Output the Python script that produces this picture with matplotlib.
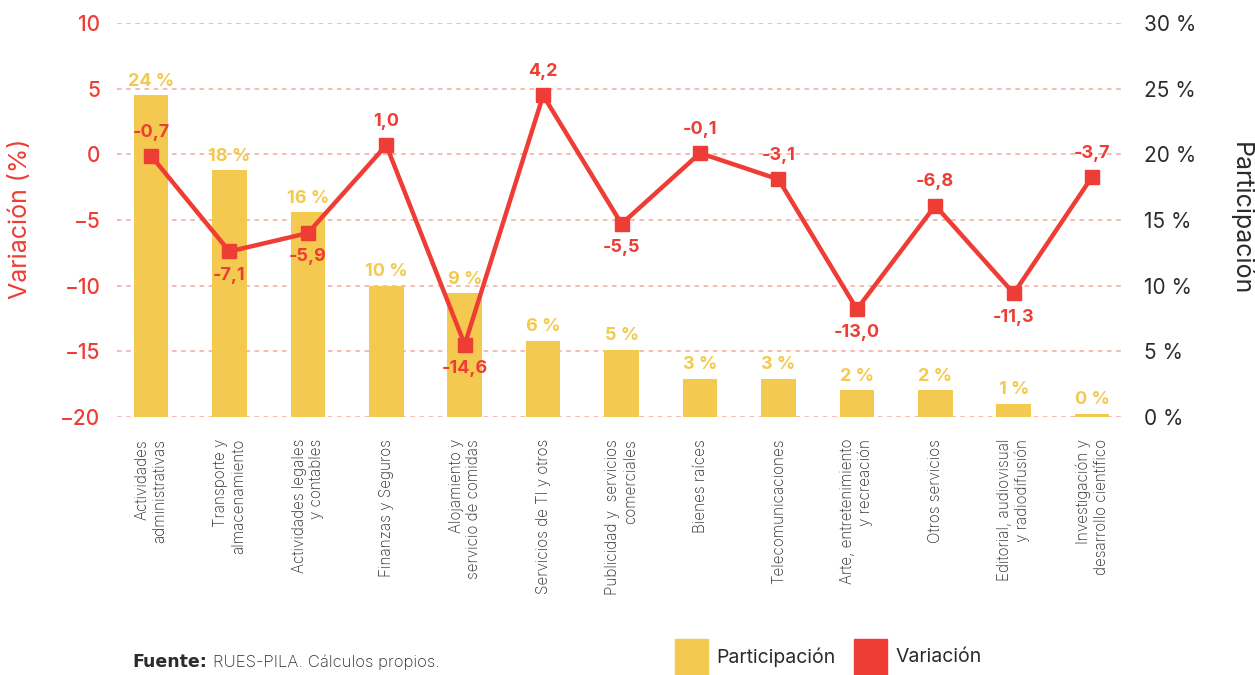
import matplotlib.pyplot as plt
import numpy as np
from matplotlib.patches import Rectangle

# Data
categorias = [
    "Actividades\nadministrativas",
    "Transporte y\nalmacenamiento",
    "Actividades legales\ny contables",
    "Finanzas y Seguros",
    "Alojamiento y\nservicio de comidas",
    "Servicios de TI y otros",
    "Publicidad y  servicios\ncomerciales",
    "Bienes raíces",
    "Telecomunicaciones",
    "Arte, entretenimiento\ny recreación",
    "Otros servicios",
    "Editorial, audiovisual\ny radiodifusión",
    "Investigación y\ndesarrollo científico",
]
# Participación (%) - bar heights as drawn, and printed labels
participacion = [24.5, 18.8, 15.6, 10.0, 9.4, 5.8, 5.1, 2.9, 2.9, 2.0, 2.0, 1.0, 0.2]
participacion_txt = ["24", "18", "16", "10", "9", "6", "5", "3", "3", "2", "2", "1", "0"]
# Variación (%) - marker positions as drawn, and printed labels
variacion = [-0.1, -7.4, -6.0, 0.7, -14.5, 4.5, -5.3, 0.1, -1.9, -11.8, -3.9, -10.6, -1.7]
variacion_txt = ["-0,7", "-7,1", "-5,9", "1,0", "-14,6", "4,2", "-5,5",
                 "-0,1", "-3,1", "-13,0", "-6,8", "-11,3", "-3,7"]
# label above (+1) or below (-1) the marker
posicion_txt = [1, -1, -1, 1, -1, 1, -1, 1, 1, -1, 1, -1, 1]

AMARILLO = "#F4C94F"
ROJO = "#EE3D34"
GRID = "#F4A79C"
GRIS = "#2B2B2B"

plt.rcParams["font.family"] = ["Inter", "DejaVu Sans"]

fig = plt.figure(figsize=(12.55, 6.75), dpi=100)
ax_bar = fig.add_axes([0.0932, 0.3827, 0.8008, 0.5828])
ax_line = ax_bar.twinx()

x = np.arange(len(categorias))

# bars (lower layer, right axis)
ax_bar.bar(x, participacion, width=0.44, color=AMARILLO, zorder=2)
ax_bar.set_ylim(0, 30)
ax_bar.set_yticks(np.arange(0, 31, 5))
ax_bar.set_yticklabels([f"{v} %" for v in range(0, 31, 5)], fontsize=15, color=GRIS)
ax_bar.yaxis.tick_right()
ax_bar.tick_params(axis="y", length=0, pad=16)
ax_bar.grid(axis="y", color=GRID, linestyle=(0, (3, 3)), linewidth=1.1, zorder=0)
ax_bar.set_axisbelow(True)

for xi, h, t in zip(x, participacion, participacion_txt):
    ax_bar.annotate(f"{t} %", (xi, h), xytext=(0, 4), textcoords="offset points",
                    ha="center", va="bottom", fontsize=13, fontweight="bold", color=AMARILLO)

# category labels
ax_bar.set_xticks(x)
ax_bar.set_xticklabels(categorias, rotation=90, fontsize=11, color=GRIS,
                       fontweight="light", ha="center", va="top", multialignment="right")
ax_bar.tick_params(axis="x", length=0, pad=16)
ax_bar.set_xlim(-0.434, 12.38)

# line (upper layer, left axis)
ax_line.plot(x, variacion, color=ROJO, linewidth=3.2, marker="s", markersize=10, zorder=3)
ax_line.set_ylim(-20, 10)
ax_line.set_yticks(np.arange(-20, 11, 5))
ax_line.set_yticklabels([str(v).replace("-", "\u2212") for v in range(-20, 11, 5)],
                        fontsize=15, color=ROJO, fontweight="medium")
ax_line.yaxis.tick_left()
ax_line.tick_params(axis="y", length=0, pad=12)

for xi, v, t, p in zip(x, variacion, variacion_txt, posicion_txt):
    ax_line.annotate(t, (xi, v), xytext=(0, 17 * p), textcoords="offset points",
                     ha="center", va="center", fontsize=13, fontweight="bold", color=ROJO)

for a in (ax_bar, ax_line):
    for s in a.spines.values():
        s.set_visible(False)

# axis titles
fig.text(21 / 1255, 1 - 219 / 675, "Variación (%)", fontsize=18, color=ROJO,
         rotation=90, ha="center", va="center")
fig.text(1241 / 1255, 1 - 219 / 675, "Participación", fontsize=18, color=GRIS,
         rotation=270, ha="center", va="center")

# source note
fig.text(132 / 1255, 1 - 662 / 675, "Fuente:", fontsize=12.5, fontweight="bold",
         color=GRIS, va="center", family="DejaVu Sans")
fig.text(213 / 1255, 1 - 662 / 675, "RUES-PILA. Cálculos propios.", fontsize=12,
         color=GRIS, fontweight="light", va="center")

# legend
for x0, col, lab in [(675, AMARILLO, "Participación"), (854, ROJO, "Variación")]:
    fig.patches.append(Rectangle((x0 / 1255, 0), 33 / 1255, 36 / 675, color=col,
                                 transform=fig.transFigure, figure=fig))
    fig.text((x0 + 41) / 1255, 1 - 657 / 675, lab, fontsize=14, color=GRIS,
             va="center", ha="left")

fig.savefig("out.png", dpi=100)
